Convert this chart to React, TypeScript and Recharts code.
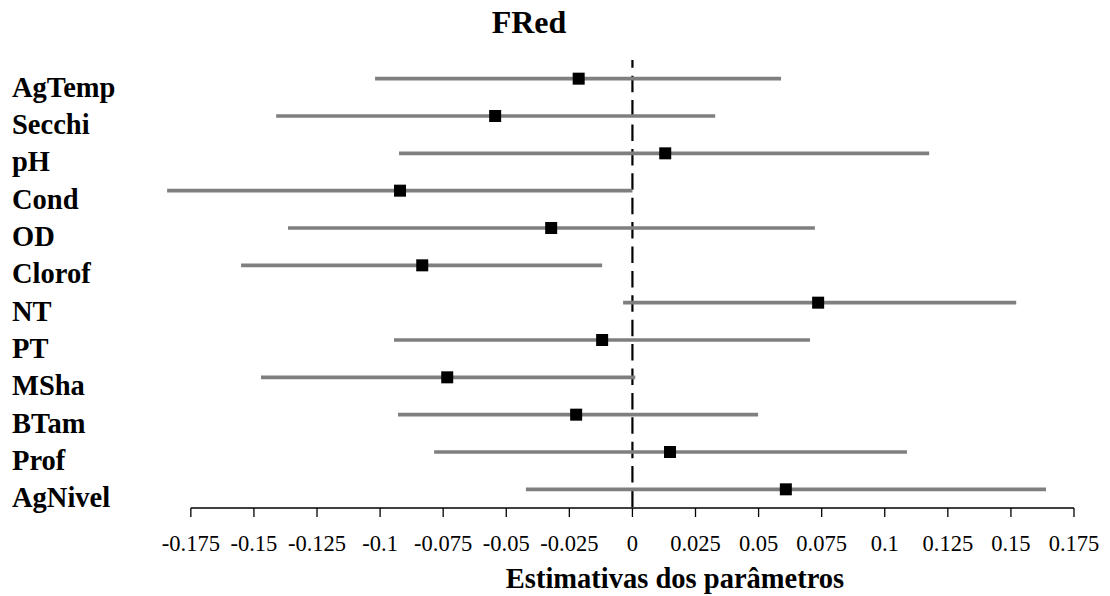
import React from "react";
import {
  ComposedChart,
  Scatter,
  ErrorBar,
  XAxis,
  YAxis,
  ReferenceLine,
} from "recharts";

const categories = [
  "AgTemp",
  "Secchi",
  "pH",
  "Cond",
  "OD",
  "Clorof",
  "NT",
  "PT",
  "MSha",
  "BTam",
  "Prof",
  "AgNivel",
];
const estimates = [
  -0.0213, -0.0544, 0.013, -0.0921, -0.0322, -0.0833, 0.0736, -0.012, -0.0734,
  -0.0223, 0.0149, 0.0608,
];
const lowerBounds = [
  -0.102, -0.1412, -0.0925, -0.1844, -0.1365, -0.1551, -0.0037, -0.0945,
  -0.1472, -0.0929, -0.0786, -0.0422,
];
const upperBounds = [
  0.0589, 0.0328, 0.1176, 0.0, 0.0723, -0.012, 0.1521, 0.0704, 0.0011, 0.0498,
  0.1088, 0.1639,
];
const xTicks = [
  -0.175, -0.15, -0.125, -0.1, -0.075, -0.05, -0.025, 0, 0.025, 0.05, 0.075,
  0.1, 0.125, 0.15, 0.175,
];
const title = "FRed";
const xTitle = "Estimativas dos parâmetros";

const data = categories.map((name, i) => ({
  name,
  idx: i,
  est: estimates[i],
  err: [estimates[i] - lowerBounds[i], upperBounds[i] - estimates[i]],
}));

const FONT = "'Liberation Serif', 'Times New Roman', Times, serif";

const CategoryTick = (props: any) => {
  const { y, payload } = props;
  return (
    <text
      x={12}
      y={y + 18}
      textAnchor="start"
      fontFamily={FONT}
      fontWeight="bold"
      fontSize={28.5}
      fill="#000"
    >
      {categories[payload.value]}
    </text>
  );
};

const SquareShape = (props: any) => {
  const { cx, cy } = props;
  if (cx == null || cy == null) return null;
  return <rect x={cx - 6} y={cy - 6} width={12} height={12} fill="#000" />;
};

export default function App() {
  return (
    <div
      style={{
        position: "absolute",
        left: 0,
        top: 0,
        width: 1110,
        height: 596,
        background: "#fff",
      }}
    >
      <ComposedChart
        width={1110}
        height={596}
        data={data}
        margin={{ top: 60, right: 36, bottom: 58, left: 13 }}
      >
        <XAxis
          type="number"
          dataKey="est"
          domain={[-0.19, 0.175]}
          ticks={xTicks}
          interval={0}
          axisLine={false}
          tickLine={{ stroke: "#000", strokeWidth: 1.3 }}
          tickSize={9}
          tickMargin={18}
          tick={{ fontFamily: FONT, fontSize: 22.5, fill: "#000" }}
          height={30}
          allowDataOverflow
        />
        <YAxis
          type="number"
          dataKey="idx"
          domain={[-0.5, 11.5]}
          reversed
          ticks={categories.map((_, i) => i)}
          interval={0}
          axisLine={false}
          tickLine={false}
          width={140}
          tick={<CategoryTick />}
        />
        <ReferenceLine
          segment={[
            { x: -0.175, y: 11.5 },
            { x: 0.175, y: 11.5 },
          ]}
          stroke="#000"
          strokeWidth={1.4}
          ifOverflow="visible"
        />
        <ReferenceLine
          segment={[
            { x: 0, y: -0.5 },
            { x: 0, y: 11.5 },
          ]}
          stroke="#000"
          strokeWidth={2.2}
          strokeDasharray="16.5 7.9"
          strokeDashoffset={8.7}
          ifOverflow="visible"
        />
        <Scatter
          data={data}
          dataKey="est"
          shape={<SquareShape />}
          isAnimationActive={false}
        >
          <ErrorBar
            dataKey="err"
            direction="x"
            width={0}
            stroke="#7f7f7f"
            strokeWidth={3.6}
            isAnimationActive={false}
          />
        </Scatter>
      </ComposedChart>
      <svg
        width={1110}
        height={596}
        style={{ position: "absolute", left: 0, top: 0, pointerEvents: "none" }}
      >
        <text
          x={529}
          y={33}
          textAnchor="middle"
          fontFamily={FONT}
          fontWeight="bold"
          fontSize={32}
          fill="#000"
        >
          {title}
        </text>
        <text
          x={675}
          y={588}
          textAnchor="middle"
          fontFamily={FONT}
          fontWeight="bold"
          fontSize={28.5}
          fill="#000"
        >
          {xTitle}
        </text>
      </svg>
    </div>
  );
}
